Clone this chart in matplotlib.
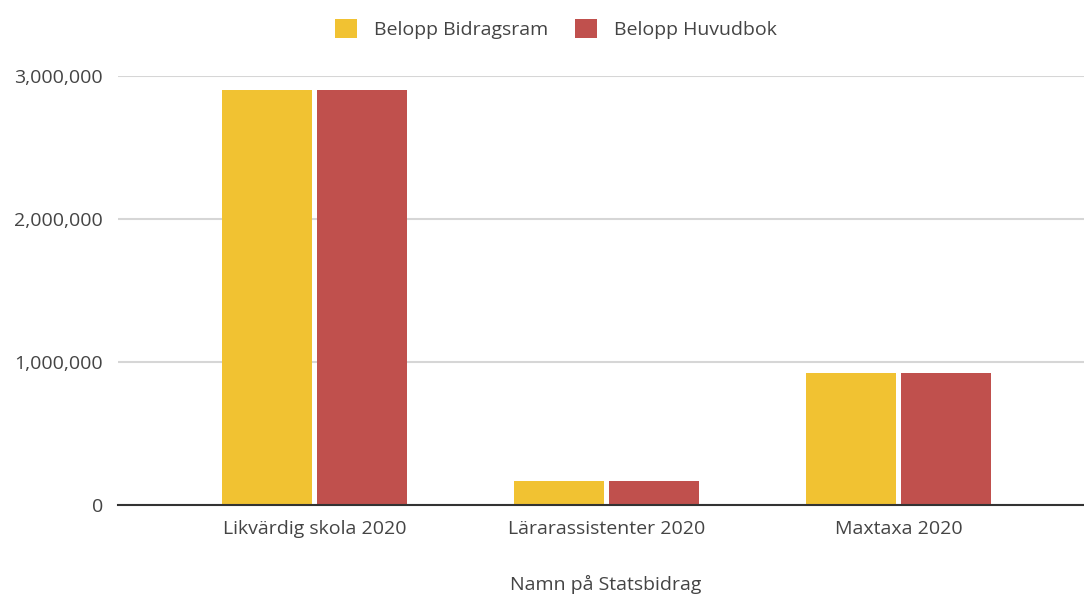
import numpy as np
import matplotlib.pyplot as plt
from matplotlib.ticker import FuncFormatter

categories = ["Likvärdig skola 2020", "Lärarassistenter 2020", "Maxtaxa 2020"]
bidragsram = [2900000, 165000, 925000]
huvudbok = [2900000, 165000, 925000]
series_names = ["Belopp Bidragsram", "Belopp Huvudbok"]
y_ticks = [0, 1000000, 2000000, 3000000]

plt.rcParams['font.family'] = ['Open Sans', 'DejaVu Sans']
text_color = '#444444'
fs = 14

fig = plt.figure(figsize=(10.84, 5.95), dpi=100)
ax = fig.add_axes([0.1089, 0.1513, 0.8911, 0.7210])

xs = np.arange(len(categories))
w = 0.308
gap = 0.017
ax.bar(xs - (w + gap) / 2, bidragsram, width=w, color='#f1c232', label=series_names[0], zorder=2)
ax.bar(xs + (w + gap) / 2, huvudbok, width=w, color='#c0504d', label=series_names[1], zorder=2)

ax.set_xlim(-0.673, 2.635)
ax.set_ylim(0, 3000000)
ax.set_yticks(y_ticks)
ax.yaxis.set_major_formatter(FuncFormatter(lambda v, p: f"{int(v):,}"))
ax.grid(axis='y', color='#d6d6d6', lw=1.5, zorder=0)
ax.set_axisbelow(True)
for s in ['top', 'right', 'left']:
    ax.spines[s].set_visible(False)
ax.spines['bottom'].set_color('#333333')
ax.spines['bottom'].set_linewidth(1.5)
ax.spines['bottom'].set_zorder(3)

ax.set_xticks(xs)
ax.set_xticklabels(categories)
ax.tick_params(length=0, labelsize=fs, colors=text_color)
ax.tick_params(axis='y', pad=11)
ax.tick_params(axis='x', pad=11)

ax.set_xlabel("Namn på Statsbidrag", fontsize=fs, color=text_color)
ax.xaxis.set_label_coords(0.505, -0.163)

fig.legend(loc='center', bbox_to_anchor=(556 / 1084, 1 - 29 / 595), ncol=2, frameon=False,
           fontsize=fs, handlelength=1.13, handleheight=1.13, handletextpad=0.85,
           columnspacing=1.4, labelcolor=text_color)

fig.savefig("out.png", dpi=100)
